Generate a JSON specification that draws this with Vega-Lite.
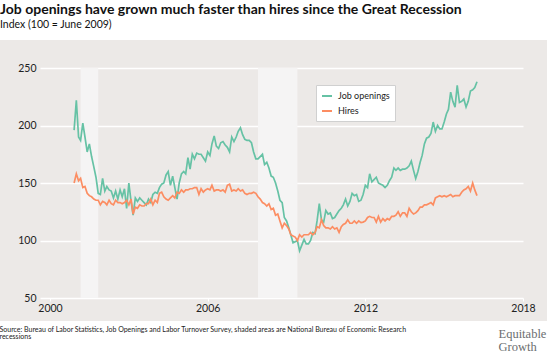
{
  "$schema": "https://vega.github.io/schema/vega-lite/v6.json",
  "width": 547,
  "height": 281,
  "autosize": {"type": "none"},
  "padding": {"left": 0, "top": 40, "right": 10, "bottom": 36},
  "background": "white",
  "title": {
    "text": "Job openings have grown much faster than hires since the Great Recession",
    "subtitle": "Index (100 = June 2009)",
    "anchor": "start",
    "frame": "group",
    "offset": 10,
    "font": "Lato",
    "fontSize": 14,
    "fontWeight": "bold",
    "color": "#111111",
    "subtitleFont": "Lato",
    "subtitleFontSize": 10.5,
    "subtitleColor": "#111111",
    "subtitlePadding": 3
  },
  "config": {
    "view": {"fill": "#ece9e7", "stroke": null},
    "font": "Lato"
  },
  "datasets": {
    "recessions": [
      {"start": "2001-03-01", "end": "2001-11-01"},
      {"start": "2007-12-01", "end": "2009-06-01"}
    ],
    "series": [
      {"date": "2000-12-01", "openings": 196, "hires": 150},
      {"date": "2001-01-01", "openings": 222, "hires": 158},
      {"date": "2001-02-01", "openings": 190, "hires": 152},
      {"date": "2001-03-01", "openings": 187, "hires": 154},
      {"date": "2001-04-01", "openings": 202, "hires": 146},
      {"date": "2001-05-01", "openings": 190, "hires": 147},
      {"date": "2001-06-01", "openings": 177, "hires": 141},
      {"date": "2001-07-01", "openings": 184, "hires": 139},
      {"date": "2001-08-01", "openings": 173, "hires": 138},
      {"date": "2001-09-01", "openings": 164, "hires": 136},
      {"date": "2001-10-01", "openings": 155, "hires": 135},
      {"date": "2001-11-01", "openings": 141, "hires": 135},
      {"date": "2001-12-01", "openings": 140, "hires": 131},
      {"date": "2002-01-01", "openings": 154, "hires": 134},
      {"date": "2002-02-01", "openings": 143, "hires": 133},
      {"date": "2002-03-01", "openings": 147, "hires": 131},
      {"date": "2002-04-01", "openings": 144, "hires": 135},
      {"date": "2002-05-01", "openings": 143, "hires": 132},
      {"date": "2002-06-01", "openings": 137, "hires": 131},
      {"date": "2002-07-01", "openings": 143, "hires": 135},
      {"date": "2002-08-01", "openings": 136, "hires": 133},
      {"date": "2002-09-01", "openings": 144, "hires": 133},
      {"date": "2002-10-01", "openings": 138, "hires": 132},
      {"date": "2002-11-01", "openings": 145, "hires": 133},
      {"date": "2002-12-01", "openings": 128, "hires": 135},
      {"date": "2003-01-01", "openings": 150, "hires": 131},
      {"date": "2003-02-01", "openings": 134, "hires": 136},
      {"date": "2003-03-01", "openings": 122, "hires": 123},
      {"date": "2003-04-01", "openings": 137, "hires": 129},
      {"date": "2003-05-01", "openings": 134, "hires": 128},
      {"date": "2003-06-01", "openings": 137, "hires": 131},
      {"date": "2003-07-01", "openings": 135, "hires": 130},
      {"date": "2003-08-01", "openings": 133, "hires": 130},
      {"date": "2003-09-01", "openings": 131, "hires": 132},
      {"date": "2003-10-01", "openings": 136, "hires": 132},
      {"date": "2003-11-01", "openings": 133, "hires": 136},
      {"date": "2003-12-01", "openings": 140, "hires": 131},
      {"date": "2004-01-01", "openings": 142, "hires": 135},
      {"date": "2004-02-01", "openings": 141, "hires": 133},
      {"date": "2004-03-01", "openings": 146, "hires": 141},
      {"date": "2004-04-01", "openings": 149, "hires": 142},
      {"date": "2004-05-01", "openings": 150, "hires": 138},
      {"date": "2004-06-01", "openings": 157, "hires": 136},
      {"date": "2004-07-01", "openings": 160, "hires": 135},
      {"date": "2004-08-01", "openings": 148, "hires": 137},
      {"date": "2004-09-01", "openings": 156, "hires": 139},
      {"date": "2004-10-01", "openings": 146, "hires": 137},
      {"date": "2004-11-01", "openings": 136, "hires": 142},
      {"date": "2004-12-01", "openings": 150, "hires": 141},
      {"date": "2005-01-01", "openings": 158, "hires": 144},
      {"date": "2005-02-01", "openings": 160, "hires": 142},
      {"date": "2005-03-01", "openings": 158, "hires": 144},
      {"date": "2005-04-01", "openings": 172, "hires": 144},
      {"date": "2005-05-01", "openings": 162, "hires": 145},
      {"date": "2005-06-01", "openings": 175, "hires": 145},
      {"date": "2005-07-01", "openings": 171, "hires": 146},
      {"date": "2005-08-01", "openings": 176, "hires": 146},
      {"date": "2005-09-01", "openings": 175, "hires": 140},
      {"date": "2005-10-01", "openings": 175, "hires": 145},
      {"date": "2005-11-01", "openings": 172, "hires": 142},
      {"date": "2005-12-01", "openings": 169, "hires": 144},
      {"date": "2006-01-01", "openings": 177, "hires": 145},
      {"date": "2006-02-01", "openings": 174, "hires": 144},
      {"date": "2006-03-01", "openings": 184, "hires": 148},
      {"date": "2006-04-01", "openings": 191, "hires": 143},
      {"date": "2006-05-01", "openings": 182, "hires": 144},
      {"date": "2006-06-01", "openings": 180, "hires": 144},
      {"date": "2006-07-01", "openings": 185, "hires": 143},
      {"date": "2006-08-01", "openings": 186, "hires": 144},
      {"date": "2006-09-01", "openings": 183, "hires": 142},
      {"date": "2006-10-01", "openings": 181, "hires": 148},
      {"date": "2006-11-01", "openings": 177, "hires": 149},
      {"date": "2006-12-01", "openings": 190, "hires": 143},
      {"date": "2007-01-01", "openings": 186, "hires": 144},
      {"date": "2007-02-01", "openings": 190, "hires": 143},
      {"date": "2007-03-01", "openings": 195, "hires": 145},
      {"date": "2007-04-01", "openings": 198, "hires": 143},
      {"date": "2007-05-01", "openings": 192, "hires": 144},
      {"date": "2007-06-01", "openings": 188, "hires": 141},
      {"date": "2007-07-01", "openings": 187, "hires": 140},
      {"date": "2007-08-01", "openings": 187, "hires": 141},
      {"date": "2007-09-01", "openings": 185, "hires": 141},
      {"date": "2007-10-01", "openings": 177, "hires": 142},
      {"date": "2007-11-01", "openings": 171, "hires": 141},
      {"date": "2007-12-01", "openings": 171, "hires": 138},
      {"date": "2008-01-01", "openings": 173, "hires": 136},
      {"date": "2008-02-01", "openings": 175, "hires": 133},
      {"date": "2008-03-01", "openings": 166, "hires": 132},
      {"date": "2008-04-01", "openings": 168, "hires": 130},
      {"date": "2008-05-01", "openings": 163, "hires": 132},
      {"date": "2008-06-01", "openings": 156, "hires": 127},
      {"date": "2008-07-01", "openings": 155, "hires": 128},
      {"date": "2008-08-01", "openings": 150, "hires": 122},
      {"date": "2008-09-01", "openings": 143, "hires": 123},
      {"date": "2008-10-01", "openings": 135, "hires": 117},
      {"date": "2008-11-01", "openings": 133, "hires": 111},
      {"date": "2008-12-01", "openings": 120, "hires": 115},
      {"date": "2009-01-01", "openings": 117, "hires": 113},
      {"date": "2009-02-01", "openings": 111, "hires": 110},
      {"date": "2009-03-01", "openings": 105, "hires": 105},
      {"date": "2009-04-01", "openings": 98, "hires": 104},
      {"date": "2009-05-01", "openings": 99, "hires": 103},
      {"date": "2009-06-01", "openings": 100, "hires": 100},
      {"date": "2009-07-01", "openings": 91, "hires": 105},
      {"date": "2009-08-01", "openings": 96, "hires": 103},
      {"date": "2009-09-01", "openings": 101, "hires": 105},
      {"date": "2009-10-01", "openings": 97, "hires": 105},
      {"date": "2009-11-01", "openings": 97, "hires": 105},
      {"date": "2009-12-01", "openings": 100, "hires": 107},
      {"date": "2010-01-01", "openings": 107, "hires": 105},
      {"date": "2010-02-01", "openings": 106, "hires": 107},
      {"date": "2010-03-01", "openings": 117, "hires": 112},
      {"date": "2010-04-01", "openings": 132, "hires": 111},
      {"date": "2010-05-01", "openings": 118, "hires": 118},
      {"date": "2010-06-01", "openings": 116, "hires": 113},
      {"date": "2010-07-01", "openings": 126, "hires": 111},
      {"date": "2010-08-01", "openings": 123, "hires": 111},
      {"date": "2010-09-01", "openings": 124, "hires": 110},
      {"date": "2010-10-01", "openings": 119, "hires": 112},
      {"date": "2010-11-01", "openings": 120, "hires": 110},
      {"date": "2010-12-01", "openings": 123, "hires": 111},
      {"date": "2011-01-01", "openings": 126, "hires": 107},
      {"date": "2011-02-01", "openings": 128, "hires": 112},
      {"date": "2011-03-01", "openings": 131, "hires": 114},
      {"date": "2011-04-01", "openings": 136, "hires": 115},
      {"date": "2011-05-01", "openings": 130, "hires": 118},
      {"date": "2011-06-01", "openings": 134, "hires": 115},
      {"date": "2011-07-01", "openings": 141, "hires": 115},
      {"date": "2011-08-01", "openings": 139, "hires": 117},
      {"date": "2011-09-01", "openings": 140, "hires": 115},
      {"date": "2011-10-01", "openings": 134, "hires": 117},
      {"date": "2011-11-01", "openings": 135, "hires": 115.5},
      {"date": "2011-12-01", "openings": 140, "hires": 116},
      {"date": "2012-01-01", "openings": 148, "hires": 117},
      {"date": "2012-02-01", "openings": 146, "hires": 120},
      {"date": "2012-03-01", "openings": 158, "hires": 121},
      {"date": "2012-04-01", "openings": 151, "hires": 120},
      {"date": "2012-05-01", "openings": 153, "hires": 120},
      {"date": "2012-06-01", "openings": 155, "hires": 116},
      {"date": "2012-07-01", "openings": 150, "hires": 121},
      {"date": "2012-08-01", "openings": 149, "hires": 116},
      {"date": "2012-09-01", "openings": 148, "hires": 119},
      {"date": "2012-10-01", "openings": 146, "hires": 117},
      {"date": "2012-11-01", "openings": 148, "hires": 119},
      {"date": "2012-12-01", "openings": 152, "hires": 118},
      {"date": "2013-01-01", "openings": 155, "hires": 121},
      {"date": "2013-02-01", "openings": 163, "hires": 121},
      {"date": "2013-03-01", "openings": 161, "hires": 122},
      {"date": "2013-04-01", "openings": 163, "hires": 125},
      {"date": "2013-05-01", "openings": 161, "hires": 121},
      {"date": "2013-06-01", "openings": 162, "hires": 124},
      {"date": "2013-07-01", "openings": 162, "hires": 124},
      {"date": "2013-08-01", "openings": 163, "hires": 121},
      {"date": "2013-09-01", "openings": 165, "hires": 128},
      {"date": "2013-10-01", "openings": 169, "hires": 125},
      {"date": "2013-11-01", "openings": 161, "hires": 123},
      {"date": "2013-12-01", "openings": 154, "hires": 124},
      {"date": "2014-01-01", "openings": 160, "hires": 126},
      {"date": "2014-02-01", "openings": 168, "hires": 129},
      {"date": "2014-03-01", "openings": 174, "hires": 129},
      {"date": "2014-04-01", "openings": 184, "hires": 131},
      {"date": "2014-05-01", "openings": 189, "hires": 131},
      {"date": "2014-06-01", "openings": 190, "hires": 132},
      {"date": "2014-07-01", "openings": 193, "hires": 133},
      {"date": "2014-08-01", "openings": 203, "hires": 131},
      {"date": "2014-09-01", "openings": 195, "hires": 137},
      {"date": "2014-10-01", "openings": 200, "hires": 138},
      {"date": "2014-11-01", "openings": 197, "hires": 139},
      {"date": "2014-12-01", "openings": 197, "hires": 138},
      {"date": "2015-01-01", "openings": 203, "hires": 139},
      {"date": "2015-02-01", "openings": 210, "hires": 138},
      {"date": "2015-03-01", "openings": 214, "hires": 139},
      {"date": "2015-04-01", "openings": 229, "hires": 140},
      {"date": "2015-05-01", "openings": 221, "hires": 138},
      {"date": "2015-06-01", "openings": 216, "hires": 139},
      {"date": "2015-07-01", "openings": 235, "hires": 139},
      {"date": "2015-08-01", "openings": 220, "hires": 139},
      {"date": "2015-09-01", "openings": 221, "hires": 142},
      {"date": "2015-10-01", "openings": 223, "hires": 144},
      {"date": "2015-11-01", "openings": 216, "hires": 145},
      {"date": "2015-12-01", "openings": 221, "hires": 147},
      {"date": "2016-01-01", "openings": 230, "hires": 143},
      {"date": "2016-02-01", "openings": 231, "hires": 150},
      {"date": "2016-03-01", "openings": 233, "hires": 144},
      {"date": "2016-04-01", "openings": 238, "hires": 139}
    ]
  },
  "layer": [
    {
      "data": {"name": "recessions"},
      "mark": {"type": "rect", "fill": "#f5f4f4"},
      "encoding": {
        "x": {
          "field": "start",
          "type": "temporal",
          "scale": {"type": "utc", "domain": ["1998-02-05", "2018-11-30"]},
          "axis": {
            "values": [
              {"year": 2000, "utc": true},
              {"year": 2006, "utc": true},
              {"year": 2012, "utc": true},
              {"year": 2018, "utc": true}
            ],
            "format": "%Y",
            "formatType": "utc",
            "offset": -23,
            "domain": false,
            "grid": false,
            "ticks": true,
            "tickSize": 3,
            "tickColor": "#ffffff",
            "tickWidth": 1,
            "labelFont": "Lato",
            "labelFontSize": 10.5,
            "labelColor": "#222222",
            "labelPadding": 2,
            "labelFlush": false,
            "title": ["Source: Bureau of Labor Statistics, Job Openings and Labor Turnover Survey, shaded areas are National Bureau of Economic Research", "recessions"],
            "titleFont": "Lato",
            "titleFontSize": 7,
            "titleFontWeight": "normal",
            "titleColor": "#222222",
            "titleAlign": "left",
            "titleAnchor": "start",
            "titleBaseline": "alphabetic",
            "titleLineHeight": 7.5,
            "titleX": -1,
            "titleY": 33
          }
        },
        "x2": {"field": "end"},
        "y": {
          "datum": 50,
          "type": "quantitative",
          "scale": {"domain": [30, 274.35], "nice": false, "zero": false},
          "axis": {
            "values": [50, 100, 150, 200, 250],
            "offset": -523,
            "domain": false,
            "grid": false,
            "ticks": true,
            "tickSize": 483,
            "tickColor": "#ffffff",
            "tickWidth": 1.5,
            "labelFont": "Lato",
            "labelFontSize": 10.5,
            "labelColor": "#222222",
            "labelPadding": 4,
            "title": ["Equitable", "Growth"],
            "titleFont": "Liberation Serif",
            "titleFontSize": 12.5,
            "titleFontWeight": "normal",
            "titleColor": "#6b6e70",
            "titleAngle": 0,
            "titleAlign": "left",
            "titleBaseline": "alphabetic",
            "titleLineHeight": 13,
            "titleX": -25,
            "titleY": 297
          }
        },
        "y2": {"datum": 250}
      }
    },
    {
      "data": {"name": "series"},
      "transform": [{"fold": ["openings", "hires"], "as": ["series", "value"]}],
      "mark": {"type": "line", "strokeWidth": 1.7},
      "encoding": {
        "x": {
          "field": "date",
          "type": "temporal",
          "scale": {"type": "utc", "domain": ["1998-02-05", "2018-11-30"]}
        },
        "y": {
          "field": "value",
          "type": "quantitative",
          "scale": {"domain": [30, 274.35], "nice": false, "zero": false}
        },
        "color": {
          "field": "series",
          "type": "nominal",
          "scale": {"domain": ["openings", "hires"], "range": ["#66c2a5", "#fc8d62"]},
          "legend": {
            "orient": "none",
            "legendX": 316,
            "legendY": 45,
            "title": null,
            "fillColor": "#ffffff",
            "strokeColor": "#d0d0d0",
            "padding": 5,
            "symbolType": "stroke",
            "symbolSize": 100,
            "symbolStrokeWidth": 2,
            "labelFont": "Lato",
            "labelFontSize": 9,
            "labelOffset": 5,
            "labelColor": "#222222",
            "rowPadding": 4,
            "labelExpr": "datum.label == 'openings' ? 'Job openings' : 'Hires'"
          }
        }
      }
    }
  ]
}
